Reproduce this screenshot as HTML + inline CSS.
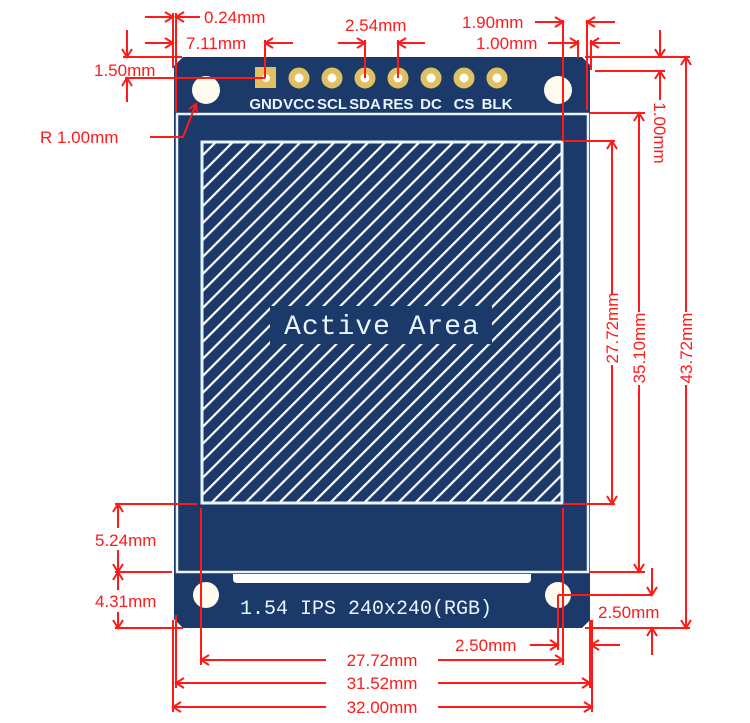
<!DOCTYPE html>
<html><head><meta charset="utf-8"><style>
html,body{margin:0;padding:0;background:#fff;width:750px;height:723px;overflow:hidden}
svg{display:block}
.r{fill:#ff1a1a;font-family:"Liberation Sans",sans-serif;font-size:17px}
</style></head><body>
<svg width="750" height="723" viewBox="0 0 750 723" xmlns="http://www.w3.org/2000/svg">
<defs>
<pattern id="h" patternUnits="userSpaceOnUse" width="12" height="12" patternTransform="rotate(45)">
<rect width="12" height="12" fill="#1b3a69"/>
<rect x="0" y="0" width="2.2" height="12" fill="#fff"/>
</pattern>
</defs>
<polygon points="183,57 582,57 590,65 590,620 582,628 183,628 174,619 174,66" fill="#1b3a69"/>
<rect x="177" y="114" width="411" height="458" fill="none" stroke="#e8f4ff" stroke-width="2.5"/>
<rect x="202" y="142" width="360" height="361" fill="url(#h)" stroke="#e8f4ff" stroke-width="3"/>
<rect x="270" y="306" width="222" height="38" fill="#1b3a69"/>
<text x="382" y="334" text-anchor="middle" fill="#e8f4ff" font-family="Liberation Mono,monospace" font-size="28" letter-spacing="1">Active Area</text>
<circle cx="206" cy="90" r="14" fill="#fffbee"/>
<circle cx="558" cy="90" r="14" fill="#fffbee"/>
<circle cx="206" cy="595" r="13" fill="#fffbee"/>
<circle cx="558" cy="595" r="13" fill="#fffbee"/>
<rect x="255" y="67" width="21" height="21" fill="#e0c060"/>
<circle cx="266" cy="78" r="4" fill="#fff"/>
<g fill="#fff" stroke="#e0c060" stroke-width="6">
<circle cx="299" cy="78" r="7.5"/><circle cx="332" cy="78" r="7.5"/><circle cx="365" cy="78" r="7.5"/><circle cx="398" cy="78" r="7.5"/><circle cx="431" cy="78" r="7.5"/><circle cx="464" cy="78" r="7.5"/><circle cx="497" cy="78" r="7.5"/>
</g>
<g fill="#e8f4ff" font-family="Liberation Sans,sans-serif" font-size="15" font-weight="bold" text-anchor="middle">
<text x="266" y="109">GND</text><text x="299" y="109">VCC</text><text x="332" y="109">SCL</text><text x="365" y="109">SDA</text><text x="398" y="109">RES</text><text x="431" y="109">DC</text><text x="464" y="109">CS</text><text x="497" y="109">BLK</text>
</g>
<path d="M233,574 H531 V579 Q531,583 527,583 H237 Q233,583 233,579 Z" fill="#fff"/>
<text x="240" y="614" fill="#e8f4ff" font-family="Liberation Mono,monospace" font-size="20">1.54  IPS 240x240(RGB)</text>

<g stroke="#ff1a1a" stroke-width="2" fill="none">
<path d="M173,13 V68 M176,13 V112"/>
<path d="M145,17 H173 M165,12 L173,17 L165,22 M176,17 H200 M184,12 L176,17 L184,22"/>
<path d="M145,43 H173 M165,38 L173,43 L165,48 M265,40 V78 M265,43 H293 M273,38 L265,43 L273,48"/>
<path d="M123,57 H182 M125,78 H265 M127,30 V57 M122,49 L127,57 L132,49 M127,78 V102 M122,86 L127,78 L132,86"/>
<path d="M150,137 H183 L196,104 M189,109 L196,104 L197,113"/>
<path d="M365,40 V78 M398,40 V78 M338,43 H365 M357,38 L365,43 L357,48 M425,43 H398 M406,38 L398,43 L406,48"/>
<path d="M535,22 H563 M555,17 L563,22 L555,27 M563,20 V141 M563,141 H615 M615,22 H587 M595,17 L587,22 L595,27 M587,20 V110"/>
<path d="M548,43 H578 M570,38 L578,43 L570,48 M578,40 V58 M620,43 H591 M599,38 L591,43 L599,48 M591,40 V70"/>
<path d="M585,57 H690 M595,71 H665 M660,30 V57 M655,49 L660,57 L665,49 M660,71 V100 M655,79 L660,71 L665,79"/>
<path d="M612,141 V295 M612,365 V504 M607,149 L612,141 L617,149 M607,496 L612,504 L617,496 M563,504 H615"/>
<path d="M590,113 H645 M590,572 H645 M639,113 V312 M639,385 V572 M634,121 L639,113 L644,121 M634,564 L639,572 L644,564"/>
<path d="M686,57 V312 M686,385 V628 M681,65 L686,57 L691,65 M681,620 L686,628 L691,620"/>
<path d="M558,595 H652 M652,568 V595 M647,587 L652,595 L657,587 M585,628 H690 M652,628 V655 M647,636 L652,628 L657,636"/>
<path d="M530,645 H558 M550,640 L558,645 L550,650 M558,595 V650 M620,645 H591 M599,640 L591,645 L599,650 M591,630 V650"/>
<path d="M115,504 H197 M115,572 H172 M115,628 H183 M118,504 V528 M118,550 V572 M113,512 L118,504 L123,512 M113,564 L118,572 L123,564 M118,572 V590 M118,612 V628 M113,580 L118,572 L123,580 M113,620 L118,628 L123,620"/>
<path d="M201,508 V665 M563,508 V665 M201,660 H326 M438,660 H563 M209,655 L201,660 L209,665 M555,655 L563,660 L555,665"/>
<path d="M176,615 V688 M590,620 V688 M176,683 H326 M438,683 H590 M184,678 L176,683 L184,688 M582,678 L590,683 L582,688"/>
<path d="M173,620 V712 M592,620 V712 M173,707 H326 M438,707 H592 M181,702 L173,707 L181,712 M584,702 L592,707 L584,712"/>
</g>
<g class="r">
<text x="204" y="23">0.24mm</text>
<text x="186" y="49">7.11mm</text>
<text x="94" y="76">1.50mm</text>
<text x="40" y="143">R 1.00mm</text>
<text x="345" y="31">2.54mm</text>
<text x="462" y="28">1.90mm</text>
<text x="476" y="49">1.00mm</text>
<text x="95" y="546">5.24mm</text>
<text x="95" y="607">4.31mm</text>
<text x="598" y="618">2.50mm</text>
<text x="455" y="651">2.50mm</text>
<text x="382" y="666" text-anchor="middle">27.72mm</text>
<text x="382" y="689" text-anchor="middle">31.52mm</text>
<text x="382" y="713" text-anchor="middle">32.00mm</text>
<text transform="translate(618,328) rotate(-90)" text-anchor="middle">27.72mm</text>
<text transform="translate(645,348) rotate(-90)" text-anchor="middle">35.10mm</text>
<text transform="translate(692,348) rotate(-90)" text-anchor="middle">43.72mm</text>
<text transform="translate(654,133) rotate(90)" text-anchor="middle">1.00mm</text>
</g>
</svg>
</body></html>
